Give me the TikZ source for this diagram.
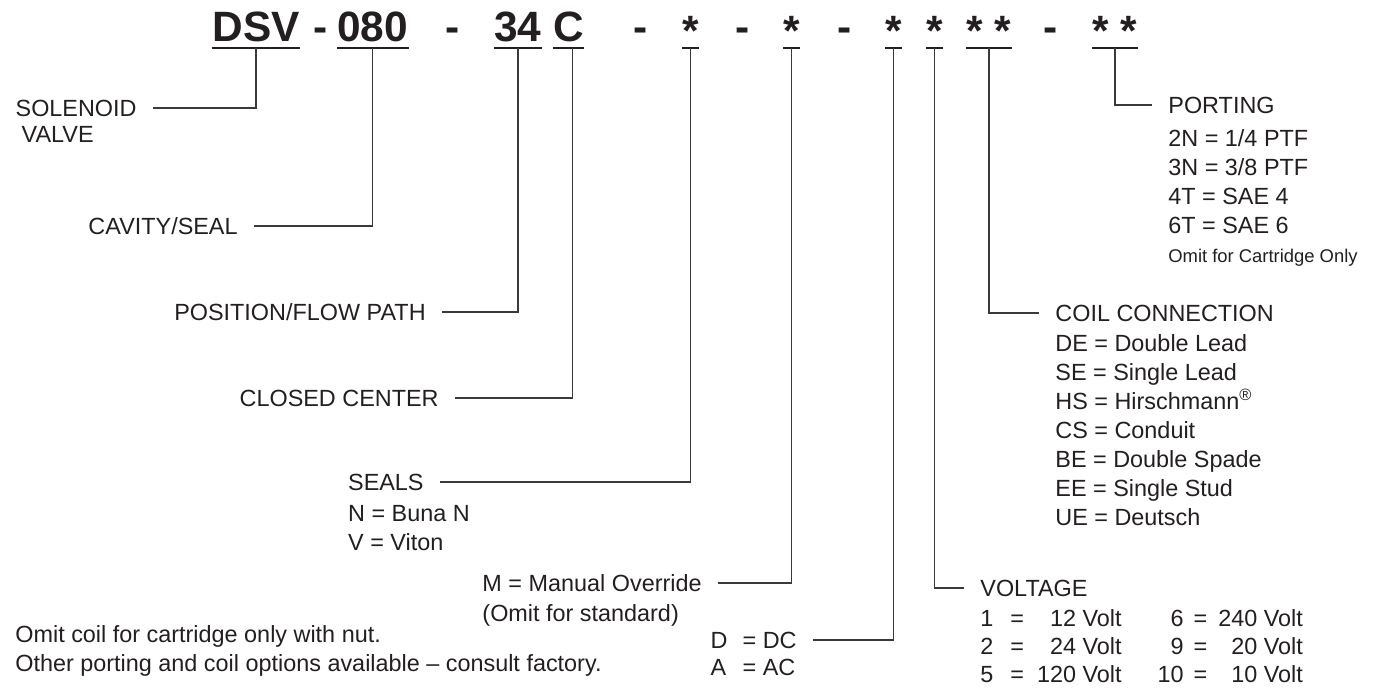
\documentclass[tikz,border=0pt]{standalone}
\usepackage{fontspec}
\setmainfont{Liberation Sans}
\usepackage{tikz}
\usetikzlibrary{positioning, calc}
\definecolor{cInk}{HTML}{231F20}
\definecolor{cLead}{HTML}{3A3A3A}
\newcommand{\codestar}{\raisebox{-2pt}{*}}
\tikzset{
  code/.style    ={font=\fontsize{21.2}{24}\selectfont\bfseries, text=cInk, anchor=base west,
                   inner xsep=0pt, inner ysep=3pt, text height=15pt, text depth=0pt},
  joiner/.style  ={code, inner ysep=0pt},
  uline/.style   ={line width=1pt, draw=cInk},
  lbl/.style     ={font=\fontsize{11.7}{14.5}\selectfont, text=cInk, inner xsep=8pt, inner ysep=0pt,
                   text height=8.4pt, text depth=0pt},
  opts/.style    ={font=\fontsize{11.7}{14.5}\selectfont, text=cInk, inner xsep=8pt, inner ysep=0pt,
                   anchor=base west},
  note/.style    ={opts, inner xsep=0pt},
  lead/.style    ={line width=0.7pt, draw=cLead}
}

\begin{document}
\begin{tikzpicture}[x=0.5pt, y=-0.5pt]
  \useasboundingbox (0,0) rectangle (1374,688);

  % ====================== Model code (top row) ======================
  \node[code]   (dsv)  at (212,42)  {DSV};
  \node[joiner] (d1)   at (313,42)  {-};
  \node[code]   (cav)  at (337,42)  {080};
  \node[joiner] (d2)   at (445,42)  {-};
  \node[code]   (pos)  at (494,42)  {34};
  \node[code]   (ctr)  at (553,42)  {C};
  \node[joiner] (d3)   at (633,42)  {-};
  \node[code]   (sl)   at (682,42)  {\codestar};
  \node[joiner] (d4)   at (735,42)  {-};
  \node[code]   (mo)   at (783,42)  {\codestar};
  \node[joiner] (d5)   at (837,42)  {-};
  \node[code]   (cur)  at (885,42)  {\codestar};
  \node[code]   (vlt)  at (926,42)  {\codestar};
  \node[code]   (coil) at (966,42)  {\codestar\ \codestar};
  \node[joiner] (d6)   at (1043,42) {-};
  \node[code]   (port) at (1092,42) {\codestar\ \codestar};

  \draw[uline] (dsv.south west)  -- (dsv.south east);
  \draw[uline] (cav.south west)  -- (cav.south east);
  \draw[uline] (pos.south west)  -- (pos.south east);
  \draw[uline] (ctr.south west)  -- (ctr.south east);
  \draw[uline] (sl.south west)   -- (sl.south east);
  \draw[uline] (mo.south west)   -- (mo.south east);
  \draw[uline] (cur.south west)  -- (cur.south east);
  \draw[uline] (vlt.south west)  -- (vlt.south east);
  \draw[uline] (coil.south west) -- (coil.south east);
  \draw[uline] (port.south west) -- (port.south east);

  % ====================== Left labels ======================
  \node[lbl, anchor=east] (solenoid) at (153,108) {SOLENOID};
  \node[lbl, anchor=base west] (valve) at ([shift={(6,26)}]solenoid.base west) {VALVE};
  \node[lbl, anchor=east] (cavity)   at (254,226) {CAVITY/SEAL};
  \node[lbl, anchor=east] (position) at (442,312) {POSITION/FLOW PATH};
  \node[lbl, anchor=east] (closed)   at (455,398) {CLOSED CENTER};

  \node[lbl, anchor=east] (seals) at (440,482) {SEALS};
  \node[opts] (sealsopt) at ([shift={(0,31)}]seals.base west) {%
    \begin{tabular}[t]{@{}l@{}}
      N = Buna N\\
      V = Viton
    \end{tabular}};

  \node[lbl, anchor=east] (manual) at (718,583) {M = Manual Override};
  \node[opts] (manualopt) at ([shift={(0,30)}]manual.base west) {(Omit for standard)};

  \node[lbl, anchor=east] (dc) at (813,640) {\makebox[9pt][l]{D}\hspace{7pt}= DC};
  \node[lbl, anchor=base west] (ac) at ([shift={(0,27)}]dc.base west) {\makebox[9pt][l]{A}\hspace{7pt}= AC};

  \draw[lead] (dsv.south) |- (solenoid.east);
  \draw[lead] (cav.south) |- (cavity.east);
  \draw[lead] (pos.south) |- (position.east);
  \draw[lead] ([xshift=2pt]ctr.south) |- (closed.east);
  \draw[lead] (sl.south)  |- (seals.east);
  \draw[lead] (mo.south)  |- (manual.east);
  \draw[lead] (cur.south) |- (dc.east);

  % ====================== Right labels ======================
  \node[lbl, anchor=west] (porting) at (1152,105) {PORTING};
  \node[opts] (portopt) at ([shift={(0,33)}]porting.base west) {%
    \begin{tabular}[t]{@{}l@{}}
      2N = 1/4 PTF\\
      3N = 3/8 PTF\\
      4T = SAE 4\\
      6T = SAE 6\\
      {\fontsize{9.2}{11}\selectfont Omit for Cartridge Only}
    \end{tabular}};

  \node[lbl, anchor=west] (coilcon) at (1039,313) {COIL CONNECTION};
  \node[opts] (coilopt) at ([shift={(0,30)}]coilcon.base west) {%
    \begin{tabular}[t]{@{}l@{}}
      DE = Double Lead\\
      SE = Single Lead\\
      HS = Hirschmann\textsuperscript{®}\\
      CS = Conduit\\
      BE = Double Spade\\
      EE = Single Stud\\
      UE = Deutsch
    \end{tabular}};

  \node[lbl, anchor=west] (voltage) at (964,588) {VOLTAGE};
  \node[opts] (voltopt) at ([shift={(0,30)}]voltage.base west) {%
    \renewcommand{\arraystretch}{0.96}%
    \begin{tabular}[t]{@{}l@{\hspace{8.5pt}}c@{\hspace{6.5pt}}r@{\hspace{18pt}}r@{\hspace{5pt}}c@{\hspace{5.5pt}}r@{}}
      1 & = & 12 Volt  & 6  & = & 240 Volt\\
      2 & = & 24 Volt  & 9  & = & 20 Volt\\
      5 & = & 120 Volt & 10 & = & 10 Volt
    \end{tabular}};

  \draw[lead] (vlt.south)  |- (voltage.west);
  \draw[lead] (coil.south) |- (coilcon.west);
  \draw[lead] (port.south) |- (porting.west);

  % ====================== Footnote ======================
  \node[note] (footnote) at (15,642) {%
    \begin{tabular}[t]{@{}l@{}}
      Omit coil for cartridge only with nut.\\
      Other porting and coil options available -- consult factory.
    \end{tabular}};

\end{tikzpicture}
\end{document}
